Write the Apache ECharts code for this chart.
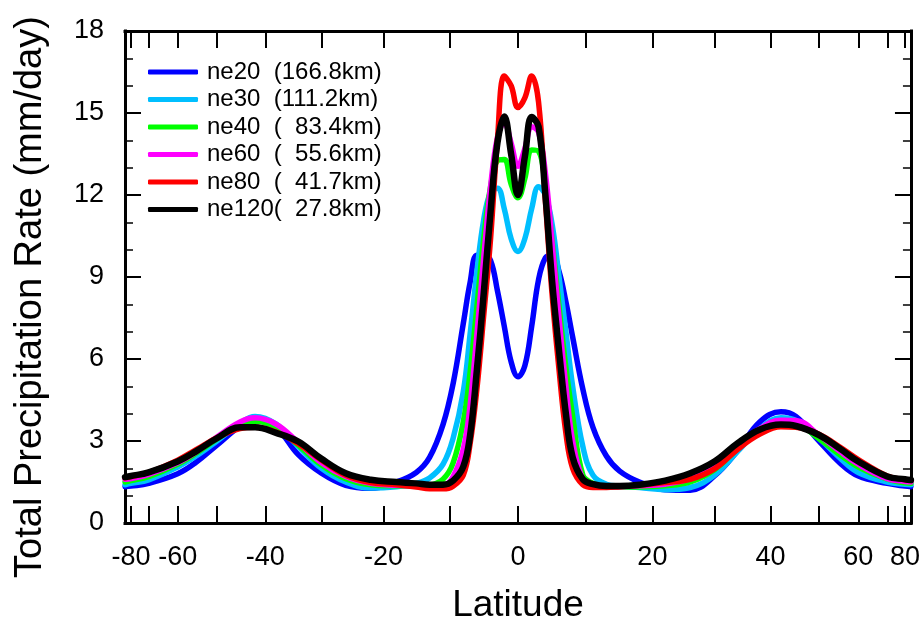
<!DOCTYPE html>
<html>
<head>
<meta charset="utf-8">
<script src="https://cdn.jsdelivr.net/npm/echarts@6/dist/echarts.min.js"></script>
<style>
  html, body { margin: 0; padding: 0; background: #fff; }
  #chart { width: 923px; height: 627px; }
</style>
</head>
<body>
<div id="chart"></div>
<script>
// Zonal-mean total precipitation rate (mm/day) for several grid resolutions
const latitudes = [-89, -80, -70, -60, -55, -50, -45, -42, -38, -34, -30, -26, -22, -18, -15, -13, -11, -9.5,
  -8, -7, -6, -5, -4, -3, -2, -1, 0, 1, 2, 3, 4, 5, 6, 7, 8,
  9.5, 11, 13, 15, 18, 22, 26, 30, 34, 38, 42, 45, 50, 55, 60, 70, 80, 89];

const ne20 = [1.33, 1.35, 1.45, 1.8, 2.22, 2.85, 3.55, 3.82, 3.5, 2.5, 1.82, 1.38, 1.27, 1.5, 1.85, 2.4, 3.6, 5.1,
  7.3, 8.8, 9.8, 9.8, 9.6, 8.5, 7.2, 5.9, 5.35, 5.75, 7.2, 8.9, 9.7, 9.8, 9.2, 8.1, 6.8,
  4.9, 3.5, 2.45, 1.9, 1.5, 1.22, 1.2, 1.72, 2.65, 3.7, 4.07, 3.9, 3.0, 2.2, 1.72, 1.45, 1.35, 1.33];

const ne30 = [1.4, 1.45, 1.58, 2.05, 2.45, 3.0, 3.65, 3.9, 3.62, 2.8, 2.0, 1.5, 1.28, 1.33, 1.45, 1.65, 2.15, 3.1,
  4.8, 6.9, 9.2, 11.1, 12.1, 12.25, 11.5, 10.4, 9.93, 10.4, 11.5, 12.3, 12.0, 10.9, 9.0, 7.0, 5.0,
  2.8, 1.75, 1.42, 1.35, 1.3, 1.22, 1.3, 1.75, 2.62, 3.45, 3.85, 3.75, 3.1, 2.38, 1.85, 1.5, 1.42, 1.4];

const ne40 = [1.5, 1.55, 1.7, 2.15, 2.55, 3.08, 3.58, 3.72, 3.5, 2.85, 2.12, 1.62, 1.4, 1.36, 1.35, 1.38, 1.6, 2.2,
  3.7, 5.5, 7.9, 10.4, 12.3, 13.25, 13.3, 12.4, 11.9, 12.6, 13.65, 13.6, 12.4, 10.3, 7.9, 5.7, 3.9,
  1.75, 1.45, 1.33, 1.32, 1.32, 1.36, 1.5, 1.95, 2.72, 3.4, 3.72, 3.65, 3.08, 2.5, 2.05, 1.6, 1.47, 1.45];

const ne60 = [1.6, 1.63, 1.78, 2.2, 2.6, 3.15, 3.7, 3.85, 3.62, 2.95, 2.2, 1.7, 1.45, 1.38, 1.35, 1.32, 1.35, 1.7,
  2.7, 4.3, 6.9, 9.7, 12.3, 14.1, 14.65, 13.9, 13.05, 13.7, 14.5, 14.3, 12.8, 10.2, 7.5, 5.0, 3.0,
  1.6, 1.35, 1.32, 1.33, 1.36, 1.42, 1.62, 2.05, 2.8, 3.45, 3.76, 3.75, 3.22, 2.62, 2.15, 1.62, 1.52, 1.5];

const ne80 = [1.65, 1.7, 1.85, 2.3, 2.68, 3.12, 3.45, 3.5, 3.33, 2.9, 2.3, 1.75, 1.48, 1.4, 1.32, 1.25, 1.25, 1.35,
  1.75, 2.9, 4.9, 7.6, 10.4, 14.0, 16.35, 16.0, 15.2, 15.55, 16.35, 15.4, 11.8, 8.3, 5.6, 3.3, 2.0,
  1.4, 1.3, 1.3, 1.33, 1.38, 1.48, 1.6, 1.98, 2.7, 3.25, 3.52, 3.5, 3.25, 2.78, 2.32, 1.72, 1.58, 1.55];

const ne120 = [1.68, 1.72, 1.85, 2.25, 2.62, 3.1, 3.5, 3.5, 3.3, 2.98, 2.35, 1.82, 1.58, 1.5, 1.45, 1.4, 1.4, 1.55,
  2.06, 3.2, 5.6, 8.4, 11.4, 13.9, 14.87, 13.5, 12.0, 13.4, 14.85, 14.5, 12.0, 8.8, 6.3, 4.0, 2.4,
  1.6, 1.42, 1.35, 1.35, 1.4, 1.55, 1.82, 2.25, 2.92, 3.42, 3.6, 3.55, 3.22, 2.72, 2.25, 1.7, 1.6, 1.57];

const seriesNames = ['ne20  (166.8km)', 'ne30  (111.2km)', 'ne40  (  83.4km)',
  'ne60  (  55.6km)', 'ne80  (  41.7km)', 'ne120(  27.8km)'];
const seriesColors = ['#0000ff', '#00bfff', '#00ff00', '#ff00ff', '#ff0000', '#000000'];
const seriesValues = [ne20, ne30, ne40, ne60, ne80, ne120];

// Latitude ticks (degrees); the x axis is linear in sin(latitude)
const tickLatitudes = [-80, -70, -60, -50, -40, -30, -20, -10, 0, 10, 20, 30, 40, 50, 60, 70, 80];
const labelLatitudes = [-80, -60, -40, -20, 0, 20, 40, 60, 80];

const xTitle = 'Latitude';
const yTitle = 'Total Precipitation Rate (mm/day)';

const toSin = d => Math.sin(d * Math.PI / 180);
const fromSin = s => Math.round(Math.asin(Math.max(-1, Math.min(1, s))) * 180 / Math.PI);

const FONT = '"Liberation Sans", Arial, Helvetica, sans-serif';
const tickStyle = { color: '#000', width: 2 };
const frameStyle = { color: '#000', width: 3, cap: 'square' };

function xAxisCfg(pos, withLabels) {
  return {
    type: 'value', position: pos, min: -1, max: 1,
    axisLine: { show: true, onZero: false, lineStyle: frameStyle },
    axisTick: { show: true, inside: true, length: 17, customValues: tickLatitudes.map(toSin), lineStyle: tickStyle },
    axisLabel: withLabels ? {
      show: true, customValues: labelLatitudes.map(toSin),
      formatter: v => String(fromSin(v)),
      fontFamily: FONT, fontSize: 27, color: '#000', margin: 21
    } : { show: false },
    splitLine: { show: false }
  };
}

function yAxisCfg(pos, withLabels) {
  return {
    type: 'value', position: pos, min: 0, max: 18, interval: 3,
    axisLine: { show: true, onZero: false, lineStyle: frameStyle },
    axisTick: { show: true, inside: true, length: 16, lineStyle: tickStyle },
    minorTick: { show: true, splitNumber: 3, length: 8, lineStyle: { color: '#000', width: 1.5 } },
    axisLabel: withLabels ? { show: true, fontFamily: FONT, fontSize: 27, color: '#000', margin: 21 } : { show: false },
    splitLine: { show: false },
    minorSplitLine: { show: false }
  };
}

const chart = echarts.init(document.getElementById('chart'), null, { renderer: 'canvas' });

chart.setOption({
  animation: false,
  backgroundColor: '#fff',
  grid: { left: 125, right: 12, top: 31, bottom: 104, containLabel: false },
  legend: {
    orient: 'vertical', left: 148, top: 60, padding: 0,
    itemWidth: 50, itemHeight: 5, itemGap: 3.5,
    icon: 'roundRect',
    textStyle: { fontFamily: FONT, fontSize: 24, color: '#000', lineHeight: 24, padding: [0, 0, 0, 4] },
    data: seriesNames
  },
  graphic: [
    {
      type: 'text', x: 518, y: 606,
      style: { text: xTitle, font: '37px ' + FONT, fill: '#000', align: 'center', verticalAlign: 'middle' }
    },
    {
      type: 'text', x: 31, y: 297, rotation: Math.PI / 2,
      style: { text: yTitle, font: '38px ' + FONT, fill: '#000', align: 'center', verticalAlign: 'middle' }
    }
  ],
  xAxis: [xAxisCfg('bottom', true), xAxisCfg('top', false)],
  yAxis: [yAxisCfg('left', true), yAxisCfg('right', false)],
  series: seriesNames.map((name, i) => ({
    name: name,
    type: 'line',
    xAxisIndex: 0, yAxisIndex: 0,
    showSymbol: false, symbol: 'none',
    smooth: 0.4,
    color: seriesColors[i],
    lineStyle: { color: seriesColors[i], width: i === 5 ? 6.5 : 5.5, cap: 'round', join: 'round' },
    data: latitudes.map((lat, k) => [toSin(lat), seriesValues[i][k]])
  }))
});
</script>
</body>
</html>
